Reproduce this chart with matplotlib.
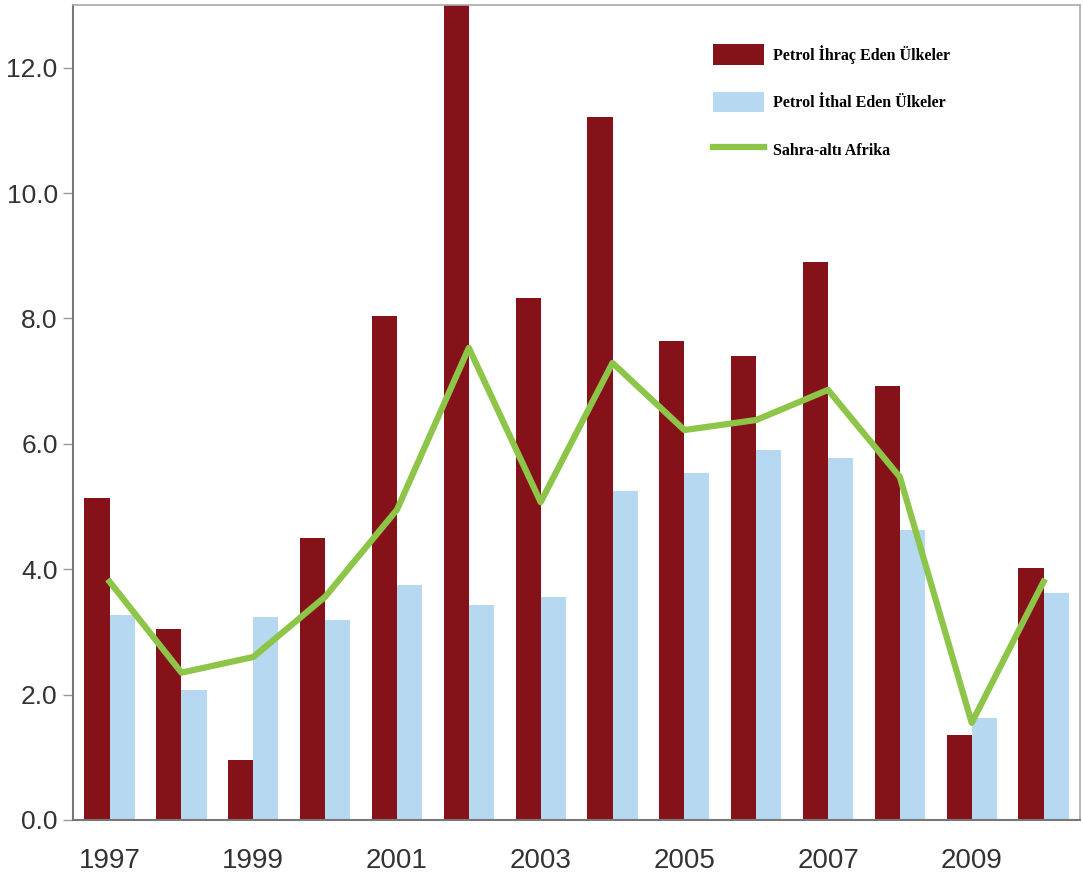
import matplotlib
matplotlib.use("Agg")
import matplotlib.pyplot as plt
import numpy as np

years = [1997, 1998, 1999, 2000, 2001, 2002, 2003, 2004, 2005, 2006, 2007, 2008, 2009, 2010]
ihrac = [5.13, 3.05, 0.96, 4.5, 8.04, 14.0, 8.33, 11.22, 7.64, 7.40, 8.9, 6.93, 1.36, 4.02]
ithal = [3.27, 2.07, 3.24, 3.19, 3.75, 3.43, 3.56, 5.24, 5.53, 5.9, 5.78, 4.63, 1.63, 3.62]
sahra = [3.8, 2.35, 2.6, 3.56, 4.95, 7.53, 5.07, 7.29, 6.22, 6.38, 6.86, 5.47, 1.55, 3.8]
labels = ["Petrol İhraç Eden Ülkeler", "Petrol İthal Eden Ülkeler", "Sahra-altı Afrika"]

red = "#861219"
blue = "#B6D8F0"
green = "#8DC548"
tick_font = ["Liberation Sans", "DejaVu Sans"]

fig = plt.figure(figsize=(10.83, 8.88), dpi=100)
ax = fig.add_axes([0.0674, 0.0766, 0.93, 0.9178])

x = np.arange(len(years))
w = 0.35
b1 = ax.bar(x - w / 2, ihrac, width=w, color=red, zorder=2)
b2 = ax.bar(x + w / 2, ithal, width=w, color=blue, zorder=2)
ln, = ax.plot(x, sahra, color=green, linewidth=4.5, zorder=3)

ax.set_xlim(-0.51, len(years) - 0.49)
ax.set_ylim(0, 13)
ax.set_yticks(np.arange(0, 13, 2))
ax.set_yticklabels([f"{v:.1f}" for v in np.arange(0, 13, 2)], family=tick_font, fontsize=19, color="#333333")
ax.set_xticks(x[::2])
ax.set_xticklabels([str(y) for y in years[::2]], family=tick_font, fontsize=20, color="#333333")
ax.tick_params(axis="y", length=7, width=1, color="#999999", pad=4)
ax.tick_params(axis="x", length=0, pad=20)

for s in ["left", "bottom"]:
    ax.spines[s].set_color("#777777")
    ax.spines[s].set_linewidth(1.5)
for s in ["top", "right"]:
    ax.spines[s].set_color("#aaaaaa")
    ax.spines[s].set_linewidth(1.2)

ax.legend([b1, b2, ln], labels, loc="upper left", bbox_to_anchor=(0.635, 0.952), frameon=False,
          prop={"family": "Liberation Serif", "weight": "bold", "size": 11.5},
          handlelength=3.2, handleheight=1.6, handletextpad=0.6,
          labelspacing=1.7, borderpad=0, borderaxespad=0)

fig.savefig("out.png", dpi=100)
